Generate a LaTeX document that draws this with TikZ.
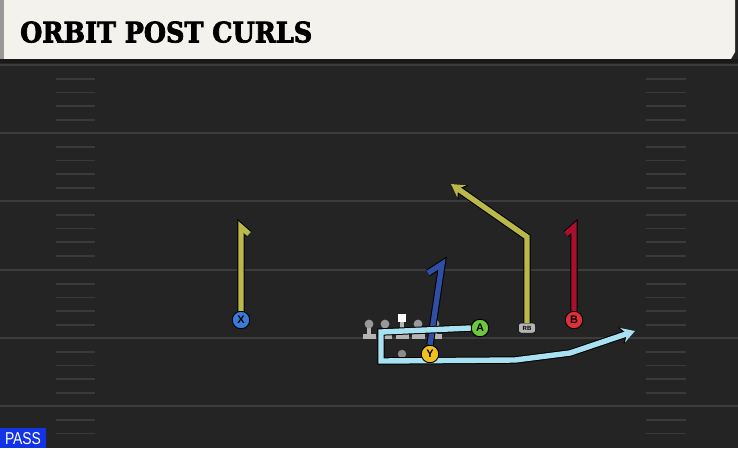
\documentclass[tikz,border=0pt]{standalone}
\usepackage{fontspec}
\usepackage{graphicx}
\setmainfont{DejaVu Serif}
\newfontfamily\titlefont[FakeBold=2.5]{DejaVu Serif Condensed Bold}
\newfontfamily\labfont{Liberation Sans}
\usetikzlibrary{arrows.meta}
\definecolor{fieldbg}{HTML}{242424}
\definecolor{fieldline}{HTML}{3C3C3C}
\definecolor{hashc}{HTML}{3A3A3A}
\definecolor{titlebg}{HTML}{F4F2EC}
\definecolor{ylw}{HTML}{BAB84A}
\definecolor{redr}{HTML}{A8102E}
\definecolor{bluer}{HTML}{2E4FA3}
\definecolor{ltblue}{HTML}{A8E2F2}
\definecolor{xcol}{HTML}{3B7BD8}
\definecolor{bcol}{HTML}{E0303C}
\definecolor{acol}{HTML}{6CC83C}
\definecolor{ycol}{HTML}{F0C020}
\definecolor{olgray}{HTML}{B4B4B4}
\definecolor{passblue}{HTML}{1234E6}
\tikzset{
  player/.style={circle, draw=black, line width=0.9pt, minimum size=17.5pt, inner sep=0pt, font=\labfont\bfseries\fontsize{11}{11}\selectfont},
  outline/.style={draw=black, line width=7.4pt, line join=miter},
  route/.style={line width=5.4pt, line join=miter},
  arrowtip/.style={-{Stealth[length=13pt,width=15pt,inset=4.5pt]}},
  arrowtipo/.style={-{Stealth[length=15pt,width=17.5pt,inset=5pt]}},
  hashmark/.style={draw=hashc, line width=1.6pt},
  yardline/.style={draw=fieldline, line width=2pt},
}
\begin{document}
\begin{tikzpicture}[x=1pt,y=-1pt]
\useasboundingbox (0,0) rectangle (738,448);
\fill[fieldbg] (0,0) rectangle (738,448);
% title bar
\fill[titlebg] (0,0) -- (735,0) -- (735,52) -- (731,59) -- (0,59) -- cycle;
\fill[black!40] (0,0) rectangle (4,59);
\fill[black!90] (0,59) rectangle (738,63);
\node[anchor=south west, inner sep=0pt] (title) at (20,43) {\resizebox{292pt}{21pt}{\titlefont ORBIT POST CURLS}};
% yard lines
\foreach \y in {65,133,201,270,338,406} {
  \draw[yardline] (0,\y) -- (738,\y);
}
\foreach \y in {65,133,201,270,338,406} {
  \foreach \k in {1,2,3,4} {
    \pgfmathsetmacro{\yy}{\y+13.7*\k}
    \ifdim \yy pt<446pt
      \draw[hashmark] (56,\yy) -- (95,\yy);
      \draw[hashmark] (646,\yy) -- (686,\yy);
    \fi
  }
}
% offensive line
\foreach \x in {369,385,418,435} {
  \fill[olgray] (\x-2,324) rectangle (\x+2,335);
  \fill[olgray] (\x-6.5,333.5) rectangle (\x+6.5,338.5);
  \fill[olgray!85!black] (\x,324) circle (4.4);
}
\fill[olgray] (402-2,318) rectangle (402+2,335);
\fill[olgray] (402-6.5,333.5) rectangle (402+6.5,338.5);
\fill[white] (398,314) rectangle (406,322);
\fill[black!45] (402,354) circle (4.2);
% players
\node[player, fill=xcol] (X) at (241,320) {X};
\node[player, fill=bcol] (B) at (574,320) {B};
\node[player, fill=acol] (A) at (480,328) {A};
\node[player, fill=ycol] (Y) at (430,354) {Y};
\node[draw=black, line width=0.5pt, fill=olgray, rounded corners=2.5pt, minimum width=17pt, minimum height=10pt, inner sep=0pt, font=\labfont\bfseries\fontsize{6}{6}\selectfont] (RB) at (527,328) {RB};
% route coordinates
\coordinate (xt) at (241,227);
\coordinate (xh) at (249,234);
\coordinate (bt) at (574,227);
\coordinate (bh) at (566,234);
\coordinate (rbc) at (527,237);
\coordinate (rbe) at (451,184);
\coordinate (yt) at (442,264);
\coordinate (yh) at (428,273);
\coordinate (a1) at (381,332);
\coordinate (a2) at (381,361);
\coordinate (a3) at (515,360);
\coordinate (a4) at (570,353);
\coordinate (a5) at (635,331);
% X route
\draw[outline] (X.north) -- (xt) -- (xh);
\draw[route, ylw] (X.north) -- (xt) -- (xh);
% B route
\draw[outline] (B.north) -- (bt) -- (bh);
\draw[route, redr] (B.north) -- (bt) -- (bh);
% RB route
\draw[outline, arrowtipo] (RB.north) -- (rbc) -- (rbe);
\draw[route, ylw, arrowtip] (RB.north) -- (rbc) -- (rbe);
% Y route
\draw[outline] (Y.north) -- (yt) -- (yh);
\draw[route, bluer] (Y.north) -- (yt) -- (yh);
% orbit motion / route
\draw[outline, arrowtipo] (A.west) -- (a1) -- (a2) -- (a3) -- (a4) -- (a5);
\draw[route, ltblue, arrowtip] (A.west) -- (a1) -- (a2) -- (a3) -- (a4) -- (a5);
% redraw players on top
\node[player, fill=ycol] at (Y) {Y};
\node[player, fill=acol] at (A) {A};
% PASS label
\fill[passblue] (0,428) rectangle (46,448);
\node[inner sep=0pt, text=white] (pass) at (23,439) {\resizebox{36pt}{12pt}{\labfont PASS}};
\end{tikzpicture}
\end{document}
